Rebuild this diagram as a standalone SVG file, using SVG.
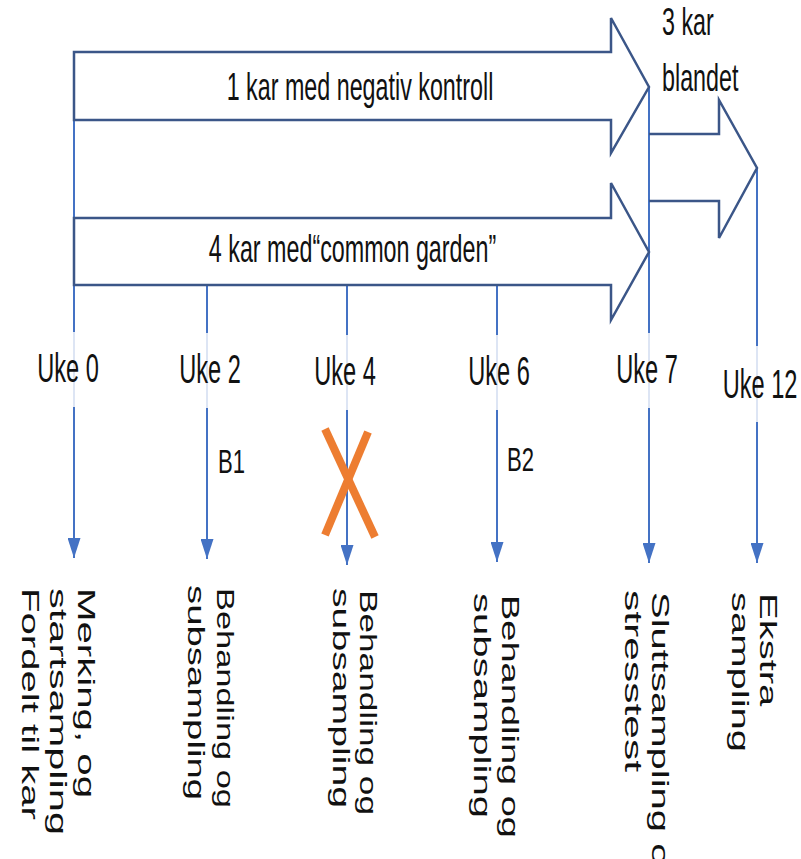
<svg xmlns="http://www.w3.org/2000/svg" width="801" height="859" viewBox="0 0 801 859">
<style>
text{font-family:"Liberation Sans",Arial,sans-serif;fill:#111}
.lbl{font-size:40px}
.big{font-size:39.5px}
.rot{font-size:40px}
.bl{font-size:33px}
.conn{stroke:#4472C4;stroke-width:2;fill:none}
.band{stroke:#3B5688;stroke-width:2.5;fill:none;stroke-linejoin:miter}
.bg{fill:#fff;fill-opacity:0.82}
.cross{stroke:#ED7D31;stroke-width:8;stroke-linecap:butt}
</style>
<defs>
<marker id="ah" markerUnits="userSpaceOnUse" markerWidth="20" markerHeight="13" refX="20" refY="6.5" orient="auto">
<path d="M0,0 L20,6.5 L0,13 z" fill="#4472C4"/>
</marker>
</defs>
<rect width="801" height="859" fill="#fff"/>

<g id="connectors">
<line class="conn" x1="74" y1="52" x2="74" y2="558" marker-end="url(#ah)"/>
<line class="conn" x1="207" y1="285" x2="207" y2="559" marker-end="url(#ah)"/>
<line class="conn" x1="347" y1="285" x2="347" y2="565" marker-end="url(#ah)"/>
<line class="conn" x1="497" y1="285" x2="497" y2="562" marker-end="url(#ah)"/>
<line class="conn" x1="649" y1="87" x2="649" y2="563" marker-end="url(#ah)"/>
<line class="conn" x1="757" y1="168" x2="757" y2="563" marker-end="url(#ah)"/>
</g>

<g id="arrow-negativ">
<path class="band" d="M74,52 L611,52 L611,18 L649,87 L611,153 L611,120 L74,120 Z"/>
<text class="big" transform="translate(360,100) scale(0.59,1)" text-anchor="middle">1 kar med negativ kontroll</text>
</g>
<g id="arrow-common">
<path class="band" d="M74,218 L611,218 L611,183 L649,252 L611,320 L611,285 L74,285 Z"/>
<text class="big" transform="translate(352.5,262) scale(0.59,1)" text-anchor="middle">4 kar med“common garden”</text>
</g>
<g id="arrow-blandet">
<path class="band" d="M649,134 L719,134 L719,100 L757,168 L719,238 L719,201 L649,201"/>
<text class="big" transform="translate(662,35) scale(0.59,1)">3 kar</text>
<text class="big" transform="translate(662,91) scale(0.59,1)">blandet</text>
</g>

<g id="uke0">
<rect class="bg" x="32" y="332" width="72" height="75"/>
<text class="lbl" transform="translate(68,382) scale(0.59,1)" text-anchor="middle">Uke 0</text>
<g transform="translate(78,588) scale(0.59,1) rotate(90)">
<text class="rot" x="0" y="0" textLength="210" lengthAdjust="spacingAndGlyphs">Merking, og</text>
<text class="rot" x="0" y="47.5" textLength="247" lengthAdjust="spacingAndGlyphs">startsampling</text>
<text class="rot" x="0" y="95" textLength="232" lengthAdjust="spacingAndGlyphs">Fordelt til kar</text>
</g>
</g>

<g id="uke2">
<rect class="bg" x="174" y="333" width="72" height="75"/>
<text class="lbl" transform="translate(210,383) scale(0.59,1)" text-anchor="middle">Uke 2</text>
<text class="bl" transform="translate(218,473) scale(0.67,1)">B1</text>
<g transform="translate(217,588) scale(0.59,1) rotate(90)">
<text class="rot" x="0" y="0" textLength="220" lengthAdjust="spacingAndGlyphs">Behandling og</text>
<text class="rot" x="-3" y="50" textLength="215" lengthAdjust="spacingAndGlyphs">subsampling</text>
</g>
</g>

<g id="uke4">
<rect class="bg" x="309" y="335" width="72" height="75"/>
<text class="lbl" transform="translate(345,385) scale(0.59,1)" text-anchor="middle">Uke 4</text>
<line class="cross" x1="325" y1="429" x2="375" y2="537"/>
<line class="cross" x1="368" y1="432" x2="325" y2="535"/>
<g transform="translate(360,590) scale(0.59,1) rotate(90)">
<text class="rot" x="0" y="0" textLength="225" lengthAdjust="spacingAndGlyphs">Behandling og</text>
<text class="rot" x="-2" y="46" textLength="220" lengthAdjust="spacingAndGlyphs">subsampling</text>
</g>
</g>

<g id="uke6">
<rect class="bg" x="463" y="335" width="72" height="75"/>
<text class="lbl" transform="translate(499,385) scale(0.59,1)" text-anchor="middle">Uke 6</text>
<text class="bl" transform="translate(507,471) scale(0.67,1)">B2</text>
<g transform="translate(502,595) scale(0.59,1) rotate(90)">
<text class="rot" x="0" y="0" textLength="243" lengthAdjust="spacingAndGlyphs">Behandling og</text>
<text class="rot" x="-2" y="47.5" textLength="225" lengthAdjust="spacingAndGlyphs">subsampling</text>
</g>
</g>

<g id="uke7">
<rect class="bg" x="611" y="333" width="72" height="75"/>
<text class="lbl" transform="translate(647,383) scale(0.59,1)" text-anchor="middle">Uke 7</text>
<g transform="translate(652,592) scale(0.59,1) rotate(90)">
<text class="rot" x="0" y="0">Sluttsampling og</text>
<text class="rot" x="-2" y="46" textLength="182" lengthAdjust="spacingAndGlyphs">stresstest</text>
</g>
</g>

<g id="uke12">
<rect class="bg" x="718" y="346" width="83" height="76"/>
<text class="lbl" transform="translate(760,398) scale(0.59,1)" text-anchor="middle">Uke 12</text>
<g transform="translate(760,593) scale(0.59,1) rotate(90)">
<text class="rot" x="0" y="0">Ekstra</text>
<text class="rot" x="-1" y="47.5">sampling</text>
</g>
</g>
</svg>
